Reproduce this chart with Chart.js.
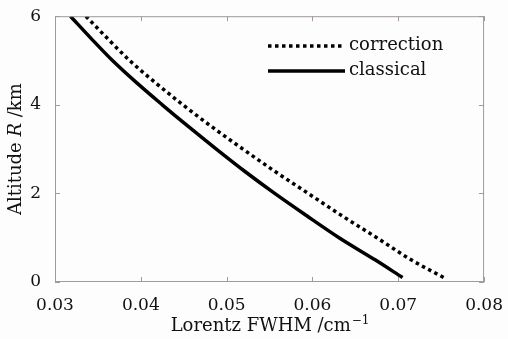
<!DOCTYPE html>
<html>
<head>
<meta charset="utf-8">
<script src="https://cdn.jsdelivr.net/npm/chart.js@4/dist/chart.umd.min.js"></script>
<style>
  html, body { margin: 0; padding: 0; background: #fdfdfd; }
  #wrap { width: 508px; height: 339px; }
</style>
</head>
<body>
<div id="wrap"><canvas id="c" width="508" height="339"></canvas></div>
<script>
// Altitude (km) and Lorentz line width (cm^-1) for the two models
const altitude       = [6, 5.5, 5, 4.5, 4, 3.5, 3, 2.5, 2, 1.5, 1, 0.5, 0.1];
const classicalFWHM  = [0.0318, 0.0342, 0.0367, 0.0395, 0.0425, 0.0456, 0.0488, 0.0521, 0.0556, 0.0593, 0.0631, 0.0673, 0.0705];
const correctionFWHM = [0.0336, 0.0361, 0.0387, 0.0417, 0.0449, 0.0483, 0.0519, 0.0556, 0.0595, 0.0634, 0.0675, 0.0715, 0.0753];

const seriesNames = ['correction', 'classical'];
const xTicks = [0.03, 0.04, 0.05, 0.06, 0.07, 0.08];
const yTicks = [0, 2, 4, 6];

const SERIF = '"DejaVu Serif", "Liberation Serif", serif';
const INK = '#000000';
const AXIS = '#a09a9a';

function points(xs) {
  return altitude.map((a, i) => ({ x: xs[i], y: a }));
}

// frame box, inward ticks, axis titles and the in-plot legend
const decorations = {
  id: 'decorations',
  afterDraw(chart) {
    const { ctx, chartArea: a, scales: { x, y } } = chart;
    ctx.save();
    ctx.strokeStyle = AXIS;
    ctx.lineWidth = 1;
    ctx.strokeRect(a.left + 0.5, a.top + 0.5, a.right - a.left - 1, a.bottom - a.top - 1);
    const tl = 5;
    ctx.beginPath();
    xTicks.forEach(v => {
      const px = Math.round(x.getPixelForValue(v)) + 0.5;
      ctx.moveTo(px, a.bottom); ctx.lineTo(px, a.bottom - tl);
      ctx.moveTo(px, a.top); ctx.lineTo(px, a.top + tl);
    });
    yTicks.forEach(v => {
      const py = Math.round(y.getPixelForValue(v)) + 0.5;
      ctx.moveTo(a.left, py); ctx.lineTo(a.left + tl, py);
      ctx.moveTo(a.right, py); ctx.lineTo(a.right - tl, py);
    });
    ctx.stroke();

    // x-axis title with superscript unit
    ctx.fillStyle = '#111';
    ctx.textBaseline = 'alphabetic';
    const main = 'Lorentz FWHM /cm';
    ctx.font = '18px ' + SERIF;
    const w1 = ctx.measureText(main).width;
    ctx.font = '12px ' + SERIF;
    const sup = '\u22121';
    const w2 = ctx.measureText(sup).width;
    const cx = (a.left + a.right) / 2;
    const startX = cx - (w1 + w2) / 2;
    const baseY = 331;
    ctx.textAlign = 'left';
    ctx.font = '18px ' + SERIF;
    ctx.fillText(main, startX, baseY);
    ctx.font = '12px ' + SERIF;
    ctx.fillText(sup, startX + w1 + 1, baseY - 7);

    // y-axis title, rotated, with italic R
    const parts = [
      { t: 'Altitude ', f: '18px ' + SERIF },
      { t: 'R', f: 'italic 18px ' + SERIF },
      { t: ' /km', f: '18px ' + SERIF }
    ];
    let total = 0;
    parts.forEach(p => { ctx.font = p.f; p.w = ctx.measureText(p.t).width; total += p.w; });
    ctx.translate(21, (a.top + a.bottom) / 2);
    ctx.rotate(-Math.PI / 2);
    let off = -total / 2;
    parts.forEach(p => { ctx.font = p.f; ctx.fillText(p.t, off, 0); off += p.w; });
    ctx.setTransform(1, 0, 0, 1, 0, 0);

    // legend inside the plot
    const rows = [46, 71];
    chart.data.datasets.forEach((ds, i) => {
      const yy = rows[i];
      ctx.beginPath();
      ctx.strokeStyle = ds.borderColor;
      ctx.lineWidth = ds.borderWidth;
      ctx.setLineDash(ds.borderDash || []);
      ctx.lineCap = 'butt';
      ctx.moveTo(268, yy); ctx.lineTo(345, yy);
      ctx.stroke();
      ctx.setLineDash([]);
      ctx.font = '18px ' + SERIF;
      ctx.fillStyle = '#111';
      ctx.textBaseline = 'middle';
      ctx.fillText(ds.label, 349, yy - 1);
    });
    ctx.restore();
  }
};

const bg = {
  id: 'bg',
  beforeDraw(chart) {
    const { ctx } = chart;
    ctx.save();
    ctx.fillStyle = '#fdfdfd';
    ctx.fillRect(0, 0, chart.width, chart.height);
    ctx.restore();
  }
};

new Chart(document.getElementById('c'), {
  type: 'scatter',
  data: {
    datasets: [
      {
        label: seriesNames[0],
        data: points(correctionFWHM),
        showLine: true,
        borderColor: INK,
        borderWidth: 3.5,
        borderDash: [3.5, 3.5],
        pointRadius: 0,
        cubicInterpolationMode: 'monotone',
        fill: false
      },
      {
        label: seriesNames[1],
        data: points(classicalFWHM),
        showLine: true,
        borderColor: INK,
        borderWidth: 3.5,
        pointRadius: 0,
        cubicInterpolationMode: 'monotone',
        fill: false
      }
    ]
  },
  options: {
    responsive: false,
    animation: false,
    layout: { padding: { top: 12, right: 21, left: 0, bottom: 0 } },
    plugins: { legend: { display: false }, tooltip: { enabled: false } },
    scales: {
      x: {
        type: 'linear',
        min: 0.03, max: 0.08,
        afterBuildTicks: s => { s.ticks = xTicks.map(v => ({ value: v })); },
        afterFit: s => { s.height = 57; },
        grid: { display: false },
        border: { display: false },
        ticks: {
          color: '#111',
          padding: 5,
          maxRotation: 0,
          font: { family: SERIF, size: 17 },
          callback: v => v.toFixed(2)
        }
      },
      y: {
        type: 'linear',
        min: 0, max: 6,
        afterBuildTicks: s => { s.ticks = yTicks.map(v => ({ value: v })); },
        afterFit: s => { s.width = 55; },
        grid: { display: false },
        border: { display: false },
        ticks: {
          color: '#111',
          padding: 6,
          font: { family: SERIF, size: 17 },
          callback: v => String(v)
        }
      }
    }
  },
  plugins: [bg, decorations]
});
</script>
</body>
</html>
